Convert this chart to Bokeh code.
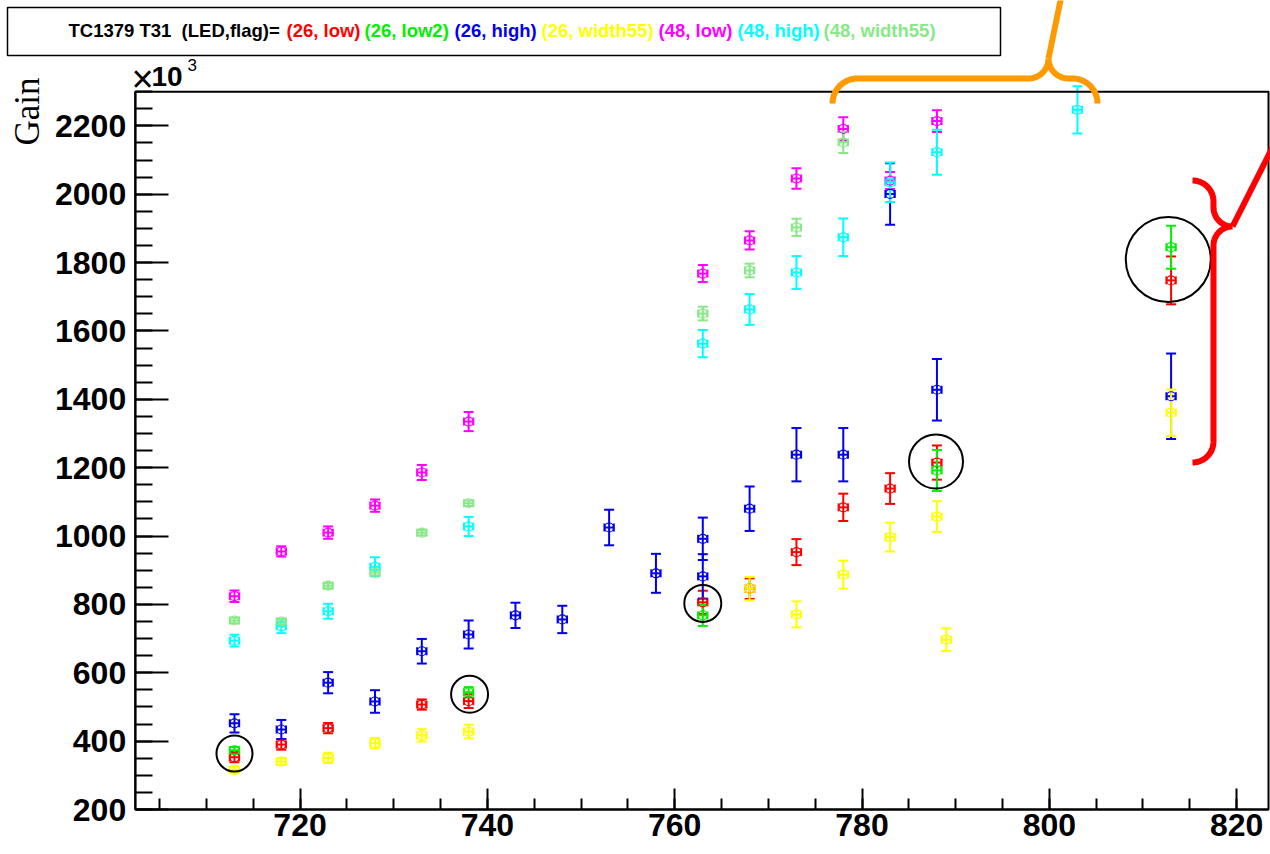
import numpy as np
from bokeh.plotting import figure
from bokeh.models import LinearAxis, FixedTicker, Range1d, ColumnDataSource, Whisker, TeeHead
from bokeh.core.properties import value
from bokeh.embed import file_html
from bokeh.resources import INLINE

# ---- gain (x10^3) versus voltage for each (LED, flag) configuration ----
red_x = [713, 718, 723, 733, 738, 763, 768, 773, 778, 783, 788, 813]
red_y = [353, 390, 438, 507, 517, 806, 846, 953, 1084, 1139, 1215, 1748]
red_e = [15, 15, 15, 15, 20, 34, 30, 38, 40, 45, 50, 70]

green_x = [713, 738, 763, 788, 813]
green_y = [373, 543, 768, 1192, 1845]
green_e = [10, 15, 31, 60, 63]

blue_x = [713, 718, 723, 728, 733, 738, 743, 748, 753, 758, 763, 763, 768, 773, 778, 783, 788, 813]
blue_y = [452, 434, 571, 516, 663, 712, 768, 756, 1025, 891, 992, 882, 1080, 1238, 1238, 2001, 1428, 1409]
blue_e = [27, 28, 31, 33, 36, 41, 37, 40, 52, 57, 62, 65, 65, 78, 78, 90, 90, 125]

yellow_x = [713, 718, 723, 728, 733, 738, 768, 773, 778, 783, 788, 789, 813]
yellow_y = [316, 340, 351, 394, 417, 428, 846, 771, 887, 997, 1057, 697, 1361]
yellow_e = [10, 10, 15, 15, 18, 20, 34, 38, 41, 42, 45, 33, 68]

magenta_x = [713, 718, 723, 728, 733, 738, 763, 768, 773, 778, 783, 788]
magenta_y = [824, 955, 1010, 1089, 1186, 1335, 1768, 1865, 2046, 2191, 2040, 2214]
magenta_e = [17, 15, 18, 18, 22, 28, 25, 27, 30, 34, 25, 32]

cyan_x = [713, 718, 723, 728, 738, 763, 768, 773, 778, 783, 788, 803]
cyan_y = [694, 736, 780, 910, 1028, 1563, 1663, 1771, 1874, 2035, 2123, 2247]
cyan_e = [17, 20, 22, 28, 28, 40, 45, 48, 55, 58, 66, 69]

lgreen_x = [713, 718, 723, 728, 733, 738, 763, 768, 773, 778]
lgreen_y = [753, 750, 855, 893, 1010, 1096, 1651, 1777, 1903, 2152]
lgreen_e = [8, 8, 8, 8, 8, 8, 20, 20, 25, 31]

x_err = 0.5

series = [
    ("(26, low)", "#ff0000", red_x, red_y, red_e),
    ("(26, low2)", "#00f000", green_x, green_y, green_e),
    ("(26, high)", "#0000ee", blue_x, blue_y, blue_e),
    ("(26, width55)", "#ffff00", yellow_x, yellow_y, yellow_e),
    ("(48, low)", "#ff00ff", magenta_x, magenta_y, magenta_e),
    ("(48, high)", "#00ffff", cyan_x, cyan_y, cyan_e),
    ("(48, width55)", "#88e888", lgreen_x, lgreen_y, lgreen_e),
]

x_ticks = [720, 740, 760, 780, 800, 820]
x_minor = list(range(705, 821, 5))
y_ticks = list(range(200, 2201, 200))
y_minor = list(range(200, 2301, 50))

# highlighted (26, low2) points
ring_x = [713.0, 738.1, 763.0, 787.9, 812.7]
ring_y = [364, 537, 803, 1218, 1809]
ring_d = [36, 37, 37, 54, 85]

# ---- canvas geometry ----
W, H = 1270, 854
X_LO, X_HI = 702.4, 823.4
Y_LO, Y_HI = 200, 2300
BOX_L, BOX_R, BOX_B, BOX_T = 134.7, 1268.0, 809.0, 91.2
sx = (BOX_R - BOX_L) / (X_HI - X_LO)
sy = (BOX_B - BOX_T) / (Y_HI - Y_LO)
XL = X_LO - BOX_L / sx
XR = X_LO + (W - BOX_L) / sx
YB = Y_LO - (H - BOX_B) / sy
YT = Y_LO + BOX_B / sy


def cx(px):
    return XL + np.asarray(px, dtype=float) / sx


def cy(py):
    return YB + (H - np.asarray(py, dtype=float)) / sy


def arc(c, r, a0, a1, n=24):
    t = np.radians(np.linspace(a0, a1, n))
    return c[0] + r * np.cos(t), c[1] - r * np.sin(t)


def path(*pieces):
    xs = np.concatenate([pc[0] for pc in pieces])
    ys = np.concatenate([pc[1] for pc in pieces])
    return cx(xs), cy(ys)


p = figure(width=W, height=H, x_range=Range1d(XL, XR), y_range=Range1d(YB, YT),
           x_axis_type=None, y_axis_type=None, toolbar_location=None,
           output_backend="svg", min_border=0, title=None)
p.outline_line_color = None
p.background_fill_color = "white"
p.border_fill_color = "white"

# plot frame
p.quad(left=[X_LO], right=[X_HI], bottom=[Y_LO], top=[Y_HI],
       fill_color=None, line_color="black", line_width=2)

tick_font = value("Liberation Sans")

yax = LinearAxis(fixed_location=X_LO, bounds=(Y_LO, Y_HI),
                 ticker=FixedTicker(ticks=y_ticks, minor_ticks=y_minor))
yax.major_tick_in = 33
yax.major_tick_out = 0
yax.minor_tick_in = 17
yax.minor_tick_out = 0
yax.axis_line_width = 2
yax.major_tick_line_width = 2
yax.minor_tick_line_width = 2
yax.major_label_standoff = 9
yax.major_label_text_font = "Liberation Sans"
yax.major_label_text_font_style = "bold"
yax.major_label_text_font_size = "32px"
yax.major_label_text_color = "black"
p.add_layout(yax, "left")

xax = LinearAxis(fixed_location=Y_LO, bounds=(X_LO, X_HI),
                 ticker=FixedTicker(ticks=x_ticks, minor_ticks=x_minor))
xax.major_tick_in = 21
xax.major_tick_out = 0
xax.minor_tick_in = 11
xax.minor_tick_out = 0
xax.axis_line_width = 2
xax.major_tick_line_width = 2
xax.minor_tick_line_width = 2
xax.major_label_standoff = 4
xax.major_label_text_font = "Liberation Sans"
xax.major_label_text_font_style = "bold"
xax.major_label_text_font_size = "32px"
xax.major_label_text_color = "black"
p.add_layout(xax, "below")

# data points with error bars
for name, color, xs, ys, es in series:
    xs = np.asarray(xs, dtype=float)
    ys = np.asarray(ys, dtype=float)
    es = np.asarray(es, dtype=float)
    src = ColumnDataSource(dict(x=xs, y=ys, lo=ys - es, hi=ys + es,
                                xlo=xs - x_err, xhi=xs + x_err))
    p.add_layout(Whisker(source=src, base="x", lower="lo", upper="hi", dimension="height",
                         line_color=color, line_width=2,
                         upper_head=TeeHead(size=10, line_color=color, line_width=2),
                         lower_head=TeeHead(size=10, line_color=color, line_width=2)))
    p.add_layout(Whisker(source=src, base="y", lower="xlo", upper="xhi", dimension="width",
                         line_color=color, line_width=2,
                         upper_head=TeeHead(size=8, line_color=color, line_width=2),
                         lower_head=TeeHead(size=8, line_color=color, line_width=2)))
    p.scatter("x", "y", source=src, marker="circle", size=9, fill_color=None,
              line_color=color, line_width=1.2)

# rings around the low2 points
p.scatter(ring_x, ring_y, size=ring_d, marker="circle", fill_color=None,
          line_color="black", line_width=2)

# orange brace over the top group
ox, oy = path(arc((857, 103), 25, 180, 90), arc((1028, 58), 20, -90, 0),
              arc((1068, 58), 20, 180, 270), arc((1072, 103), 25, 90, 0))
p.line(ox, oy, line_color="#ff9900", line_width=6)
p.line(cx([1048, 1061]), cy([58, -5]), line_color="#ff9900", line_width=6)

# red brace beside the 813 group
rx, ry = path(arc((1192, 201), 21, 90, 0), arc((1232, 207), 19, 180, 270),
              arc((1232, 245), 19, 90, 180), arc((1192, 441), 21, 0, -90))
p.line(rx, ry, line_color="#ff0000", line_width=6)
p.line(cx([1232, 1280]), cy([226, 131]), line_color="#ff0000", line_width=6)

# axis title and exponent
p.text(x=cx([27]), y=cy([111]), text=["Gain"], angle=np.pi / 2,
       text_font=value("Liberation Serif"), text_font_size="35px",
       text_align="center", text_baseline="alphabetic", text_color="black")
p.text(x=cx([131]), y=cy([78]), text=["\u00d7"], text_font=tick_font,
       text_font_size="38px", text_baseline="alphabetic", text_color="black")
p.text(x=cx([151]), y=cy([76]), text=["10"], text_font=tick_font, text_font_style="bold",
       text_font_size="28px", text_baseline="alphabetic", text_color="black")
p.text(x=cx([187]), y=cy([64]), text=["3"], text_font=tick_font,
       text_font_size="17px", text_baseline="alphabetic", text_color="black")

# title box listing the configurations
p.quad(left=cx([7]), right=cx([1000]), top=cy([7]), bottom=cy([55]),
       fill_color="white", line_color="black", line_width=1.5)
title_parts = ["TC1379 T31\u00a0\u00a0(LED,flag)="] + [s[0] for s in series]
title_colors = ["black"] + [s[1] for s in series]
title_px = [68, 286, 364, 454, 541, 658, 737, 823]
p.text(x=cx(title_px), y=cy([29.5] * len(title_px)), text=title_parts,
       text_color=title_colors, text_font=tick_font, text_font_style="bold",
       text_font_size="18.5px", text_baseline="alphabetic")

open("out.html", "w").write(file_html(p, INLINE))
